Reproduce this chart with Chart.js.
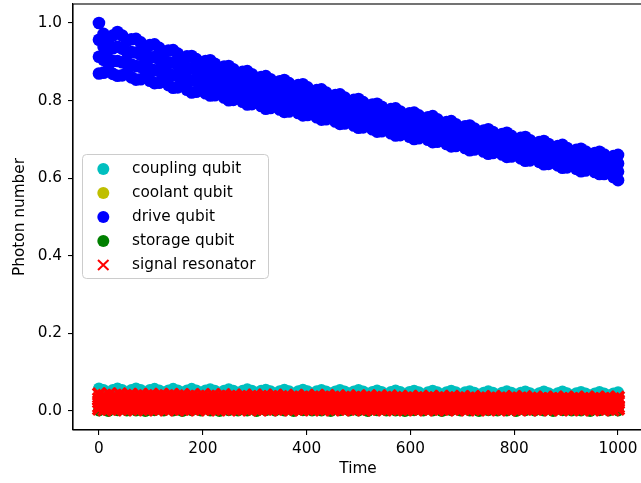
<!DOCTYPE html>
<html lang="en">
<head>
    <meta charset="UTF-8">
    <title>Photon number vs Time</title>
    <script src="https://cdn.jsdelivr.net/npm/chart.js"></script>
    <style>
        html, body { margin: 0; padding: 0; background: #fff; overflow: hidden; }
        #wrap { width: 645px; height: 483px; }
    </style>
</head>
<body>
    <div id="wrap">
        <canvas id="photonChart" width="645" height="483"></canvas>
    </div>

    <script>
        // Sample times: quarter steps of the ~35.7 beat, and the dense resonator grid
        const quarterTimes = [
            0, 8.9, 17.9, 26.8, 35.7, 44.6, 53.6, 62.5, 71.4, 80.4, 89.3, 98.2, 107.1, 116.1, 125, 133.9,
            142.9, 151.8, 160.7, 169.6, 178.6, 187.5, 196.4, 205.4, 214.3, 223.2, 232.1, 241.1, 250, 258.9, 267.9, 276.8,
            285.7, 294.6, 303.6, 312.5, 321.4, 330.4, 339.3, 348.2, 357.1, 366.1, 375, 383.9, 392.9, 401.8, 410.7, 419.6,
            428.6, 437.5, 446.4, 455.4, 464.3, 473.2, 482.1, 491.1, 500, 508.9, 517.9, 526.8, 535.7, 544.6, 553.6, 562.5,
            571.4, 580.4, 589.3, 598.2, 607.1, 616.1, 625, 633.9, 642.9, 651.8, 660.7, 669.6, 678.6, 687.5, 696.4, 705.4,
            714.3, 723.2, 732.1, 741.1, 750, 758.9, 767.9, 776.8, 785.7, 794.6, 803.6, 812.5, 821.4, 830.4, 839.3, 848.2,
            857.1, 866.1, 875, 883.9, 892.9, 901.8, 910.7, 919.6, 928.6, 937.5, 946.4, 955.4, 964.3, 973.2, 982.1, 991.1,
            1000];
        const bumpTimes = [0, 35.7, 71.4, 107.1, 142.9, 178.6, 214.3, 250, 285.7, 321.4, 357.1, 392.9, 428.6, 464.3, 500,
            535.7, 571.4, 607.1, 642.9, 678.6, 714.3, 750, 785.7, 821.4, 857.1, 892.9, 928.6, 964.3, 1000];
        const valleyTimes = [17.9, 53.6, 89.3, 125, 160.7, 196.4, 232.1, 267.9, 303.6, 339.3, 375, 410.7, 446.4, 482.1,
            517.9, 553.6, 589.3, 625, 660.7, 696.4, 732.1, 767.9, 803.6, 839.3, 875, 910.7, 946.4, 982.1];
        const signalTimes = [0, 10, 20, 30, 40, 50, 60, 70, 80, 90, 100, 110, 120, 130, 140, 150, 160, 170, 180, 190,
            200, 210, 220, 230, 240, 250, 260, 270, 280, 290, 300, 310, 320, 330, 340, 350, 360, 370, 380, 390,
            400, 410, 420, 430, 440, 450, 460, 470, 480, 490, 500, 510, 520, 530, 540, 550, 560, 570, 580, 590,
            600, 610, 620, 630, 640, 650, 660, 670, 680, 690, 700, 710, 720, 730, 740, 750, 760, 770, 780, 790,
            800, 810, 820, 830, 840, 850, 860, 870, 880, 890, 900, 910, 920, 930, 940, 950, 960, 970, 980, 990, 1000];

        // Drive qubit (blue band): top edge, two inner rows, bottom edge, one value per quarter step
        const driveTop = [
            1.000, 0.972, 0.955, 0.968, 0.977, 0.968, 0.954, 0.958, 0.959, 0.950, 0.938, 0.943, 0.945, 0.936, 0.924, 0.929,
            0.930, 0.921, 0.909, 0.914, 0.915, 0.907, 0.896, 0.902, 0.904, 0.895, 0.883, 0.888, 0.889, 0.881, 0.869, 0.874,
            0.876, 0.868, 0.856, 0.861, 0.863, 0.855, 0.844, 0.850, 0.853, 0.845, 0.834, 0.840, 0.842, 0.834, 0.822, 0.827,
            0.829, 0.821, 0.809, 0.814, 0.816, 0.808, 0.796, 0.802, 0.804, 0.796, 0.784, 0.790, 0.792, 0.784, 0.772, 0.778,
            0.780, 0.772, 0.761, 0.767, 0.769, 0.762, 0.751, 0.757, 0.760, 0.752, 0.740, 0.745, 0.747, 0.739, 0.728, 0.734,
            0.736, 0.728, 0.717, 0.723, 0.726, 0.719, 0.708, 0.714, 0.717, 0.709, 0.698, 0.704, 0.706, 0.698, 0.687, 0.693,
            0.696, 0.688, 0.677, 0.683, 0.686, 0.678, 0.667, 0.673, 0.676, 0.669, 0.658, 0.665, 0.668, 0.661, 0.650, 0.657,
            0.660];
        const driveUpper = [
            0.957, 0.939, 0.930, 0.935, 0.939, 0.934, 0.926, 0.925, 0.924, 0.918, 0.912, 0.912, 0.912, 0.906, 0.900, 0.899,
            0.898, 0.892, 0.886, 0.885, 0.884, 0.879, 0.874, 0.874, 0.874, 0.868, 0.862, 0.861, 0.860, 0.855, 0.849, 0.848,
            0.847, 0.842, 0.836, 0.836, 0.835, 0.830, 0.825, 0.826, 0.826, 0.821, 0.815, 0.816, 0.815, 0.810, 0.804, 0.804,
            0.803, 0.798, 0.792, 0.791, 0.791, 0.786, 0.780, 0.780, 0.779, 0.774, 0.768, 0.769, 0.768, 0.763, 0.757, 0.757,
            0.757, 0.752, 0.746, 0.747, 0.746, 0.742, 0.737, 0.738, 0.738, 0.733, 0.726, 0.726, 0.725, 0.720, 0.715, 0.715,
            0.715, 0.710, 0.705, 0.705, 0.705, 0.701, 0.696, 0.696, 0.696, 0.691, 0.686, 0.686, 0.686, 0.681, 0.675, 0.676,
            0.676, 0.671, 0.666, 0.666, 0.666, 0.661, 0.656, 0.657, 0.657, 0.653, 0.647, 0.649, 0.649, 0.644, 0.638, 0.639,
            0.638];
        const driveLower = [
            0.913, 0.905, 0.904, 0.902, 0.902, 0.899, 0.899, 0.893, 0.889, 0.887, 0.887, 0.882, 0.878, 0.876, 0.875, 0.870,
            0.865, 0.863, 0.862, 0.857, 0.852, 0.851, 0.851, 0.847, 0.843, 0.841, 0.840, 0.835, 0.830, 0.828, 0.828, 0.823,
            0.819, 0.817, 0.817, 0.811, 0.807, 0.806, 0.806, 0.801, 0.798, 0.796, 0.797, 0.792, 0.789, 0.787, 0.786, 0.780,
            0.777, 0.775, 0.774, 0.769, 0.765, 0.763, 0.763, 0.758, 0.755, 0.753, 0.753, 0.747, 0.744, 0.742, 0.742, 0.737,
            0.733, 0.731, 0.732, 0.727, 0.724, 0.723, 0.723, 0.718, 0.715, 0.713, 0.713, 0.707, 0.704, 0.702, 0.702, 0.697,
            0.693, 0.692, 0.692, 0.687, 0.684, 0.683, 0.683, 0.679, 0.676, 0.674, 0.674, 0.669, 0.665, 0.663, 0.664, 0.659,
            0.656, 0.654, 0.654, 0.650, 0.647, 0.645, 0.645, 0.640, 0.637, 0.636, 0.637, 0.632, 0.630, 0.628, 0.627, 0.621,
            0.617];
        const driveBottom = [
            0.870, 0.872, 0.879, 0.869, 0.864, 0.865, 0.871, 0.860, 0.854, 0.855, 0.861, 0.851, 0.845, 0.846, 0.851, 0.840,
            0.833, 0.834, 0.839, 0.828, 0.821, 0.823, 0.829, 0.819, 0.813, 0.814, 0.819, 0.808, 0.801, 0.802, 0.808, 0.797,
            0.790, 0.791, 0.797, 0.786, 0.779, 0.781, 0.787, 0.777, 0.771, 0.772, 0.778, 0.768, 0.762, 0.763, 0.768, 0.757,
            0.751, 0.752, 0.757, 0.746, 0.740, 0.741, 0.747, 0.736, 0.730, 0.731, 0.737, 0.726, 0.720, 0.721, 0.727, 0.716,
            0.710, 0.711, 0.717, 0.707, 0.701, 0.703, 0.709, 0.699, 0.693, 0.694, 0.699, 0.688, 0.682, 0.683, 0.689, 0.678,
            0.672, 0.674, 0.680, 0.669, 0.663, 0.665, 0.671, 0.661, 0.655, 0.656, 0.662, 0.651, 0.645, 0.646, 0.652, 0.642,
            0.636, 0.637, 0.643, 0.633, 0.627, 0.628, 0.634, 0.624, 0.618, 0.620, 0.626, 0.616, 0.611, 0.611, 0.615, 0.603,
            0.595];

        // Coupling qubit (cyan), only its top edge shows above the red
        const couplingTop = [
            0.058, 0.054, 0.047, 0.054, 0.058, 0.054, 0.047, 0.054, 0.058, 0.054, 0.047, 0.054, 0.057, 0.053, 0.046, 0.053,
            0.057, 0.053, 0.046, 0.053, 0.057, 0.053, 0.046, 0.053, 0.056, 0.052, 0.045, 0.052, 0.056, 0.052, 0.045, 0.052,
            0.056, 0.052, 0.045, 0.052, 0.055, 0.051, 0.044, 0.051, 0.055, 0.051, 0.044, 0.051, 0.055, 0.051, 0.044, 0.051,
            0.054, 0.050, 0.043, 0.050, 0.054, 0.050, 0.043, 0.050, 0.054, 0.050, 0.042, 0.049, 0.053, 0.049, 0.042, 0.049,
            0.053, 0.049, 0.042, 0.049, 0.052, 0.048, 0.041, 0.048, 0.052, 0.048, 0.041, 0.048, 0.052, 0.048, 0.041, 0.048,
            0.051, 0.047, 0.040, 0.047, 0.051, 0.047, 0.040, 0.047, 0.051, 0.047, 0.040, 0.047, 0.050, 0.046, 0.039, 0.046,
            0.050, 0.046, 0.039, 0.046, 0.050, 0.046, 0.039, 0.046, 0.049, 0.045, 0.038, 0.045, 0.049, 0.045, 0.038, 0.045,
            0.048];

        // Coolant qubit (yellow) and storage qubit (green), mostly hidden behind the resonator
        const coolantBump = [0.040, 0.030, 0.026, 0.024, 0.022, 0.021, 0.020, 0.020, 0.019, 0.019, 0.018, 0.018, 0.018, 0.017, 0.017,
            0.017, 0.016, 0.016, 0.016, 0.016, 0.015, 0.015, 0.015, 0.015, 0.014, 0.014, 0.014, 0.014, 0.014];
        const storageBump = [0.001, 0.002, 0.001, 0.002, 0.001, 0.002, 0.001, 0.002, 0.001, 0.002, 0.001, 0.002, 0.001, 0.002, 0.001,
            0.002, 0.001, 0.002, 0.001, 0.002, 0.001, 0.002, 0.001, 0.002, 0.001, 0.002, 0.001, 0.002, 0.001];
        const storageValley = [0.000, 0.001, 0.000, 0.001, 0.000, 0.001, 0.000, 0.001, 0.000, 0.001, 0.000, 0.001, 0.000, 0.001,
            0.000, 0.001, 0.000, 0.001, 0.000, 0.001, 0.000, 0.001, 0.000, 0.001, 0.000, 0.001, 0.000, 0.001];

        // Signal resonator (red x), five rows over the dense time grid
        const signalTop = [
            0.043, 0.039, 0.043, 0.039, 0.043, 0.039, 0.042, 0.038, 0.042, 0.038,
            0.042, 0.038, 0.042, 0.038, 0.042, 0.038, 0.041, 0.037, 0.041, 0.037,
            0.041, 0.037, 0.041, 0.037, 0.041, 0.037, 0.040, 0.036, 0.040, 0.036,
            0.040, 0.036, 0.040, 0.036, 0.040, 0.036, 0.039, 0.035, 0.039, 0.035,
            0.039, 0.035, 0.039, 0.035, 0.039, 0.035, 0.038, 0.034, 0.038, 0.034,
            0.038, 0.034, 0.038, 0.034, 0.038, 0.034, 0.038, 0.034, 0.037, 0.033,
            0.037, 0.033, 0.037, 0.033, 0.037, 0.033, 0.037, 0.033, 0.037, 0.033,
            0.036, 0.032, 0.036, 0.032, 0.036, 0.032, 0.036, 0.032, 0.036, 0.032,
            0.036, 0.032, 0.036, 0.032, 0.035, 0.031, 0.035, 0.031, 0.035, 0.031,
            0.035, 0.031, 0.035, 0.031, 0.035, 0.031, 0.035, 0.031, 0.035, 0.031,
            0.035];
        const signalUpper = [
            0.031, 0.034, 0.031, 0.034, 0.031, 0.034, 0.031, 0.034, 0.031, 0.034,
            0.031, 0.034, 0.031, 0.034, 0.031, 0.034, 0.031, 0.033, 0.030, 0.033,
            0.030, 0.033, 0.030, 0.033, 0.030, 0.033, 0.030, 0.033, 0.030, 0.033,
            0.030, 0.033, 0.030, 0.033, 0.030, 0.032, 0.029, 0.032, 0.029, 0.032,
            0.029, 0.032, 0.029, 0.032, 0.029, 0.032, 0.029, 0.032, 0.029, 0.032,
            0.029, 0.032, 0.029, 0.031, 0.028, 0.031, 0.028, 0.031, 0.028, 0.031,
            0.028, 0.031, 0.028, 0.031, 0.028, 0.031, 0.028, 0.031, 0.028, 0.031,
            0.028, 0.030, 0.027, 0.030, 0.027, 0.030, 0.027, 0.030, 0.027, 0.030,
            0.027, 0.030, 0.027, 0.030, 0.027, 0.030, 0.027, 0.030, 0.027, 0.029,
            0.026, 0.029, 0.026, 0.029, 0.026, 0.029, 0.026, 0.029, 0.026, 0.029,
            0.026];
        const signalMid = [
            0.024, 0.021, 0.024, 0.021, 0.024, 0.021, 0.024, 0.021, 0.024, 0.021,
            0.024, 0.021, 0.024, 0.021, 0.024, 0.021, 0.024, 0.021, 0.024, 0.021,
            0.024, 0.021, 0.024, 0.021, 0.024, 0.020, 0.023, 0.020, 0.023, 0.020,
            0.023, 0.020, 0.023, 0.020, 0.023, 0.020, 0.023, 0.020, 0.023, 0.020,
            0.023, 0.020, 0.023, 0.020, 0.023, 0.020, 0.023, 0.020, 0.023, 0.020,
            0.022, 0.019, 0.022, 0.019, 0.022, 0.019, 0.022, 0.019, 0.022, 0.019,
            0.022, 0.019, 0.022, 0.019, 0.022, 0.019, 0.022, 0.019, 0.022, 0.019,
            0.022, 0.019, 0.022, 0.019, 0.022, 0.018, 0.021, 0.018, 0.021, 0.018,
            0.021, 0.018, 0.021, 0.018, 0.021, 0.018, 0.021, 0.018, 0.021, 0.018,
            0.021, 0.018, 0.021, 0.018, 0.021, 0.018, 0.021, 0.018, 0.021, 0.018,
            0.021];
        const signalLower = [
            0.012, 0.015, 0.012, 0.015, 0.012, 0.015, 0.012, 0.015, 0.012, 0.015,
            0.012, 0.015, 0.012, 0.015, 0.012, 0.015, 0.012, 0.015, 0.012, 0.015,
            0.012, 0.015, 0.012, 0.015, 0.012, 0.015, 0.012, 0.015, 0.012, 0.015,
            0.012, 0.015, 0.012, 0.015, 0.012, 0.015, 0.012, 0.015, 0.012, 0.015,
            0.012, 0.014, 0.011, 0.014, 0.011, 0.014, 0.011, 0.014, 0.011, 0.014,
            0.011, 0.014, 0.011, 0.014, 0.011, 0.014, 0.011, 0.014, 0.011, 0.014,
            0.011, 0.014, 0.011, 0.014, 0.011, 0.014, 0.011, 0.014, 0.011, 0.014,
            0.011, 0.014, 0.011, 0.014, 0.011, 0.014, 0.011, 0.014, 0.011, 0.014,
            0.011, 0.014, 0.011, 0.014, 0.011, 0.014, 0.011, 0.014, 0.011, 0.014,
            0.011, 0.014, 0.011, 0.014, 0.011, 0.014, 0.011, 0.014, 0.011, 0.014,
            0.011];
        const signalLow = [
            0.006, 0.004, 0.006, 0.004, 0.006, 0.004, 0.006, 0.004, 0.006, 0.004,
            0.006, 0.004, 0.006, 0.004, 0.006, 0.004, 0.006, 0.004, 0.006, 0.004,
            0.006, 0.004, 0.006, 0.004, 0.006, 0.004, 0.006, 0.004, 0.006, 0.004,
            0.006, 0.004, 0.006, 0.004, 0.006, 0.004, 0.006, 0.004, 0.006, 0.004,
            0.006, 0.004, 0.006, 0.004, 0.006, 0.004, 0.006, 0.004, 0.006, 0.004,
            0.006, 0.004, 0.006, 0.004, 0.006, 0.004, 0.006, 0.004, 0.006, 0.004,
            0.006, 0.004, 0.006, 0.004, 0.006, 0.004, 0.006, 0.004, 0.006, 0.004,
            0.006, 0.004, 0.006, 0.004, 0.006, 0.004, 0.006, 0.004, 0.006, 0.004,
            0.006, 0.004, 0.006, 0.004, 0.006, 0.004, 0.006, 0.004, 0.006, 0.004,
            0.006, 0.004, 0.006, 0.004, 0.006, 0.004, 0.006, 0.004, 0.006, 0.004,
            0.006];

        const xTicks = [0, 200, 400, 600, 800, 1000];
        const yTicks = [0.0, 0.2, 0.4, 0.6, 0.8, 1.0];
        const seriesLabels = ['coupling qubit', 'coolant qubit', 'drive qubit', 'storage qubit', 'signal resonator'];
        const seriesColors = ['#00bfbf', '#bfbf00', '#0000ff', '#008000', '#ff0000'];

        const FONT = 'DejaVu Sans';
        const FONT_SIZE = 15.3;

        function pts(xs, ys) {
            return xs.map((x, i) => ({ x: x, y: ys[i] }));
        }

        // Spines on top of the markers, like matplotlib
        const framePlugin = {
            id: 'frame',
            afterDatasetsDraw(chart) {
                const { ctx, chartArea: a } = chart;
                ctx.save();
                ctx.strokeStyle = '#000';
                ctx.lineWidth = 1.1;
                ctx.strokeRect(a.left, a.top, a.right - a.left, a.bottom - a.top);
                ctx.restore();
            }
        };

        // Axis titles and the boxed legend inside the plot
        const labelPlugin = {
            id: 'labels',
            afterDraw(chart) {
                const ctx = chart.ctx;
                ctx.save();
                ctx.fillStyle = '#000';
                ctx.font = FONT_SIZE + 'px "' + FONT + '"';
                ctx.textAlign = 'center';
                ctx.textBaseline = 'middle';
                ctx.fillText('Time', 358, 469);
                ctx.save();
                ctx.translate(20, 217);
                ctx.rotate(-Math.PI / 2);
                ctx.fillText('Photon number', 0, 0);
                ctx.restore();

                // legend frame
                const bx = 82.5, by = 154.5, bw = 186, bh = 124, r = 4;
                ctx.beginPath();
                ctx.moveTo(bx + r, by);
                ctx.arcTo(bx + bw, by, bx + bw, by + bh, r);
                ctx.arcTo(bx + bw, by + bh, bx, by + bh, r);
                ctx.arcTo(bx, by + bh, bx, by, r);
                ctx.arcTo(bx, by, bx + bw, by, r);
                ctx.closePath();
                ctx.fillStyle = 'rgba(255,255,255,0.8)';
                ctx.fill();
                ctx.strokeStyle = '#cccccc';
                ctx.lineWidth = 1;
                ctx.stroke();

                ctx.textAlign = 'left';
                seriesLabels.forEach((label, i) => {
                    const y = 169 + i * 24;
                    if (i === 4) {
                        ctx.strokeStyle = seriesColors[i];
                        ctx.lineWidth = 2;
                        ctx.beginPath();
                        ctx.moveTo(98, y - 5);
                        ctx.lineTo(108.5, y + 5);
                        ctx.moveTo(108.5, y - 5);
                        ctx.lineTo(98, y + 5);
                        ctx.stroke();
                    } else {
                        ctx.fillStyle = seriesColors[i];
                        ctx.beginPath();
                        ctx.arc(103.3, y, 6, 0, Math.PI * 2);
                        ctx.fill();
                    }
                    ctx.fillStyle = '#000';
                    ctx.fillText(label, 132, y);
                });
                ctx.restore();
            }
        };

        const ctx = document.getElementById('photonChart').getContext('2d');
        const photonChart = new Chart(ctx, {
            type: 'scatter',
            data: {
                datasets: [
                    {
                        label: seriesLabels[0],
                        data: pts(quarterTimes, couplingTop),
                        backgroundColor: seriesColors[0],
                        pointRadius: 6,
                        borderWidth: 0,
                        order: 5
                    },
                    {
                        label: seriesLabels[1],
                        data: pts(bumpTimes, coolantBump),
                        backgroundColor: seriesColors[1],
                        pointRadius: 6,
                        borderWidth: 0,
                        order: 4
                    },
                    {
                        label: seriesLabels[2],
                        data: pts(quarterTimes, driveTop)
                            .concat(pts(quarterTimes, driveUpper))
                            .concat(pts(quarterTimes, driveLower))
                            .concat(pts(quarterTimes, driveBottom)),
                        backgroundColor: seriesColors[2],
                        pointRadius: 6.3,
                        borderWidth: 0,
                        order: 3
                    },
                    {
                        label: seriesLabels[3],
                        data: pts(bumpTimes, storageBump).concat(pts(valleyTimes, storageValley)),
                        backgroundColor: seriesColors[3],
                        pointRadius: 6,
                        borderWidth: 0,
                        order: 2
                    },
                    {
                        label: seriesLabels[4],
                        data: pts(signalTimes, signalTop)
                            .concat(pts(signalTimes, signalUpper))
                            .concat(pts(signalTimes, signalMid))
                            .concat(pts(signalTimes, signalLower))
                            .concat(pts(signalTimes, signalLow)),
                        pointStyle: 'crossRot',
                        borderColor: seriesColors[4],
                        backgroundColor: seriesColors[4],
                        pointRadius: 8.5,
                        borderWidth: 3.5,
                        order: 1
                    }
                ]
            },
            options: {
                responsive: false,
                animation: false,
                events: [],
                layout: { autoPadding: false, padding: { top: 4, right: 1, left: 0, bottom: 0 } },
                plugins: {
                    legend: { display: false },
                    tooltip: { enabled: false }
                },
                scales: {
                    x: {
                        type: 'linear',
                        min: -50,
                        max: 1050,
                        afterBuildTicks: (scale) => { scale.ticks = xTicks.map(v => ({ value: v })); },
                        afterFit: (scale) => {
                            scale.height = 53;
                            scale.paddingLeft = 0;
                            scale.paddingRight = 0;
                        },
                        ticks: {
                            callback: (v) => String(v),
                            color: '#000',
                            padding: 5,
                            maxRotation: 0,
                            font: { family: FONT, size: FONT_SIZE }
                        },
                        grid: { drawOnChartArea: false, drawTicks: true, tickLength: 5, color: '#000', lineWidth: 1.1 },
                        border: { display: true, color: '#000', width: 1.1 }
                    },
                    y: {
                        type: 'linear',
                        min: -0.049,
                        max: 1.049,
                        afterBuildTicks: (scale) => { scale.ticks = yTicks.map(v => ({ value: v })); },
                        afterFit: (scale) => {
                            scale.width = 73;
                            scale.paddingTop = 0;
                            scale.paddingBottom = 0;
                        },
                        ticks: {
                            callback: (v) => v.toFixed(1),
                            color: '#000',
                            padding: 6,
                            font: { family: FONT, size: FONT_SIZE }
                        },
                        grid: { drawOnChartArea: false, drawTicks: true, tickLength: 5, color: '#000', lineWidth: 1.1 },
                        border: { display: true, color: '#000', width: 1.1 }
                    }
                }
            },
            plugins: [framePlugin, labelPlugin]
        });
    </script>
</body>
</html>
